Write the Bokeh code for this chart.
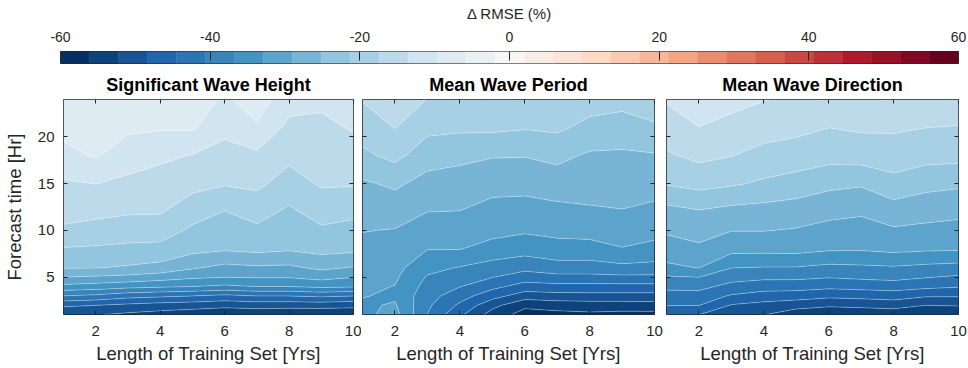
import numpy as np
from bokeh.plotting import figure
from bokeh.layouts import column, row
from bokeh.models import Range1d, LinearAxis, FixedTicker
from bokeh.embed import file_html
from bokeh.resources import INLINE

# ---------------- data ----------------
years = [1, 2, 3, 4, 5, 6, 7, 8, 9, 10]                 # length of training set [yrs]
hours = [1, 2, 3, 4, 5, 6, 8, 10, 12, 15, 18, 21, 24]   # forecast time [hr]

# Delta RMSE (%) ; one row per forecast hour, one column per training length
hs_rmse = [
    [-51.5, -52.0, -53.0, -53.8, -54.6, -55.4, -55.0, -55.4, -55.4, -55.4],
    [-47.7, -48.3, -49.2, -49.9, -50.4, -51.0, -50.6, -50.7, -50.6, -51.0],
    [-40.6, -41.4, -43.0, -43.7, -44.4, -45.3, -44.4, -44.4, -43.7, -44.4],
    [-34.0, -34.6, -35.5, -36.2, -36.7, -37.5, -36.7, -36.7, -35.8, -36.3],
    [-29.0, -29.5, -30.0, -31.0, -32.2, -32.8, -32.6, -32.6, -31.6, -32.8],
    [-24.9, -25.0, -25.6, -26.4, -28.6, -30.1, -29.6, -29.8, -28.2, -29.3],
    [-21.6, -21.8, -22.2, -22.4, -24.0, -24.7, -24.1, -24.7, -23.9, -24.2],
    [-18.0, -18.9, -19.4, -19.5, -22.0, -23.1, -22.1, -23.3, -21.9, -22.5],
    [-16.2, -16.4, -17.0, -17.1, -19.6, -21.4, -19.8, -22.0, -19.7, -20.4],
    [-14.0, -13.5, -14.4, -15.1, -16.3, -17.1, -16.6, -19.1, -17.0, -17.1],
    [-10.8,  -9.3, -11.7, -12.8, -13.7, -15.1, -14.3, -16.5, -15.7, -15.1],
    [ -8.6,  -7.9,  -9.0,  -9.3,  -9.2, -12.4, -10.2, -14.5, -14.4, -13.2],
    [ -7.0,  -6.6,  -6.6,  -6.6,  -7.4, -10.3,  -7.7, -12.0, -12.8, -11.2],
]
tm_rmse = [
    [-33.9, -31.5, -40.7, -47.6, -53.8, -57.7, -57.3, -56.9, -57.3, -57.3],
    [-33.5, -32.5, -39.9, -45.2, -51.0, -55.2, -54.4, -54.0, -54.0, -53.8],
    [-32.7, -33.5, -39.1, -42.8, -46.8, -50.3, -49.8, -49.7, -49.7, -49.7],
    [-32.2, -33.0, -38.1, -40.5, -43.4, -46.1, -45.7, -45.7, -45.7, -45.7],
    [-31.7, -32.3, -37.1, -38.7, -40.5, -42.6, -41.8, -41.8, -41.5, -41.5],
    [-31.1, -31.7, -35.7, -37.0, -38.5, -39.5, -38.4, -38.4, -37.8, -38.1],
    [-30.0, -30.4, -32.8, -32.8, -34.2, -35.2, -34.3, -34.3, -33.1, -34.0],
    [-28.9, -29.2, -30.9, -31.0, -31.8, -32.4, -31.9, -31.6, -31.1, -31.7],
    [-27.6, -27.4, -29.0, -29.1, -30.3, -30.6, -30.0, -29.5, -29.2, -29.9],
    [-25.7, -24.5, -26.5, -26.9, -27.8, -27.8, -27.3, -27.5, -27.4, -27.6],
    [-22.1, -20.2, -23.5, -24.2, -24.9, -25.0, -24.1, -25.7, -25.8, -25.5],
    [-19.5, -17.3, -20.3, -20.6, -20.5, -21.0, -20.6, -22.3, -22.9, -21.7],
    [-17.2, -15.1, -17.5, -18.6, -18.6, -19.4, -19.0, -19.7, -20.1, -19.7],
]
dir_rmse = [
    [-46.5, -48.3, -51.1, -52.1, -54.6, -55.7, -55.4, -55.0, -55.7, -55.7],
    [-44.4, -44.4, -48.6, -49.6, -50.6, -51.5, -51.1, -50.5, -52.2, -51.9],
    [-42.1, -42.1, -44.9, -46.2, -46.5, -47.5, -47.1, -46.7, -47.9, -48.0],
    [-39.7, -39.5, -41.8, -42.7, -42.9, -43.5, -43.1, -42.6, -43.5, -44.2],
    [-37.2, -36.7, -39.2, -39.8, -39.8, -40.4, -39.9, -39.5, -40.4, -41.2],
    [-33.7, -32.8, -36.7, -37.0, -37.0, -37.8, -37.5, -37.2, -37.8, -38.2],
    [-30.8, -29.8, -31.7, -31.7, -31.6, -32.4, -32.5, -31.9, -32.3, -32.5],
    [-28.5, -27.5, -28.9, -28.9, -29.3, -30.2, -30.6, -29.5, -29.9, -30.3],
    [-26.5, -25.5, -26.4, -26.7, -27.1, -28.0, -28.5, -27.1, -27.7, -28.1],
    [-21.0, -20.0, -20.8, -21.9, -22.9, -24.2, -24.7, -22.5, -24.0, -24.5],
    [-17.9, -16.5, -17.3, -18.6, -19.1, -19.9, -19.6, -19.3, -19.9, -20.1],
    [-15.4, -13.6, -14.7, -15.9, -16.5, -17.4, -16.9, -16.9, -17.4, -17.6],
    [-13.2, -11.6, -12.4, -13.4, -14.3, -14.3, -14.5, -14.7, -15.1, -15.1],
]

titles = ["Significant Wave Height", "Mean Wave Period", "Mean Wave Direction"]
x_label = "Length of Training Set [Yrs]"
y_label = "Forecast time [Hr]"
cbar_label = "\u0394 RMSE (%)"
x_ticks = [2, 4, 6, 8, 10]
y_ticks = [5, 10, 15, 20]
cbar_ticks = [-60, -40, -20, 0, 20, 40, 60]
cbar_min, cbar_max, n_colors = -60, 60, 31

# ---------------- style ----------------
FONT = "Liberation Sans"
TXT = "#262626"
rdbu = ["#053061", "#2166ac", "#4393c3", "#92c5de", "#d1e5f0", "#f7f7f7",
        "#fddbc7", "#f4a582", "#d6604d", "#b2182b", "#67001f"]
anchors = np.array([[int(c[i:i + 2], 16) for i in (1, 3, 5)] for c in rdbu], float)
t = np.linspace(0, len(rdbu) - 1, n_colors)
palette = []
for tv in t:
    i = min(int(np.floor(tv)), len(rdbu) - 2)
    f = tv - i
    rgb = anchors[i] * (1 - f) + anchors[i + 1] * f
    palette.append("#%02x%02x%02x" % tuple(int(round(v)) for v in rgb))
levels = np.linspace(cbar_min, cbar_max, n_colors + 1)


def style_axis(ax, ticks, show_labels, standoff=0, tick_in=4):
    ax.ticker = FixedTicker(ticks=ticks)
    ax.major_tick_in = tick_in
    ax.major_tick_out = 0
    ax.minor_tick_line_color = None
    ax.axis_line_color = None
    ax.major_tick_line_color = TXT
    ax.major_tick_line_width = 1
    if show_labels:
        ax.major_label_text_font = FONT
        ax.major_label_text_font_size = "15px"
        ax.major_label_text_color = TXT
        ax.major_label_standoff = standoff
        ax.major_label_overrides = {v: str(v) for v in ticks}
    else:
        ax.major_label_text_font_size = "0px"
        ax.major_label_text_color = None
        ax.major_label_standoff = 0
    ax.axis_label_text_font = FONT
    ax.axis_label_text_font_size = "18.5px"
    ax.axis_label_text_font_style = "normal"
    ax.axis_label_text_color = TXT


# ---------------- colour bar ----------------
cb = figure(width=968, height=67, x_range=Range1d(cbar_min, cbar_max), y_range=Range1d(0, 1),
            output_backend="svg", toolbar_location=None, x_axis_type=None, y_axis_type=None,
            min_border_left=60, min_border_right=10, min_border_top=51, min_border_bottom=4)
cb.quad(left=levels[:-1], right=levels[1:], bottom=0, top=1,
        fill_color=palette, line_color=palette, line_width=0.5)
cax = LinearAxis()
style_axis(cax, cbar_ticks, True, standoff=10, tick_in=9)
cax.major_label_text_font_size = "14px"
cax.axis_label = cbar_label
cax.axis_label_text_font_size = "15px"
cax.axis_label_standoff = 7
cb.add_layout(cax, "above")
cb.outline_line_color = TXT
cb.outline_line_width = 1

# ---------------- panels ----------------
datasets = [hs_rmse, tm_rmse, dir_rmse]
widths = [361, 302, 305]
borders = [(60, 8), (1, 9), (3, 10)]
panels = []
for k in range(3):
    p = figure(width=widths[k], height=301, x_range=Range1d(1, 10), y_range=Range1d(1, 24),
               output_backend="svg", toolbar_location=None, x_axis_type=None, y_axis_type=None,
               min_border_left=borders[k][0], min_border_right=borders[k][1],
               min_border_top=31, min_border_bottom=54)
    p.contour(x=years, y=hours, z=np.array(datasets[k]), levels=levels,
              fill_color=palette, line_color="white", line_alpha=0.5, line_width=0.6)

    bx = LinearAxis(axis_label=x_label)
    style_axis(bx, x_ticks, True, standoff=11)
    bx.axis_label_standoff = 4
    p.add_layout(bx, "below")

    tx = LinearAxis()
    style_axis(tx, x_ticks, False)
    p.add_layout(tx, "above")

    ly = LinearAxis(axis_label=y_label if k == 0 else None)
    style_axis(ly, y_ticks, k == 0, standoff=9)
    ly.axis_label_standoff = 10
    p.add_layout(ly, "left")

    ry = LinearAxis()
    style_axis(ry, y_ticks, False)
    p.add_layout(ry, "right")

    p.title.text = titles[k]
    p.title.align = "center"
    p.title.text_font = FONT
    p.title.text_font_size = "18px"
    p.title.text_font_style = "bold"
    p.title.text_color = "black"
    p.title.standoff = 10
    p.outline_line_color = TXT
    p.outline_line_width = 1
    panels.append(p)

layout = column(cb, row(*panels))
open("out.html", "w").write(file_html(layout, INLINE))
